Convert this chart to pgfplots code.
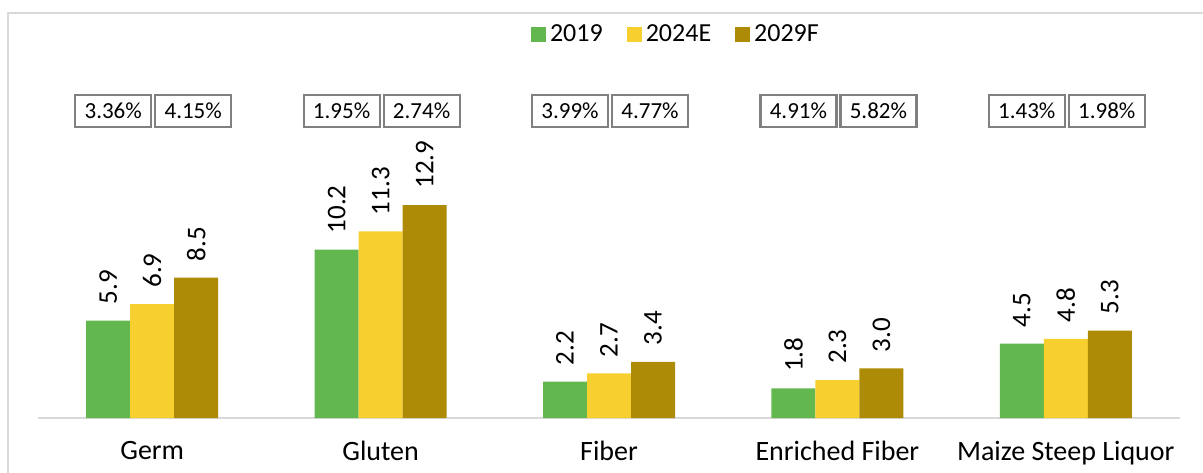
\documentclass[border=0pt]{standalone}
\usepackage{pgfplots}
\pgfplotsset{compat=1.18}
\usepackage{fontspec}
\setmainfont{Carlito}
\definecolor{cgreen}{RGB}{98,183,78}
\definecolor{cyellow}{RGB}{247,208,48}
\definecolor{cgold}{RGB}{174,139,6}
\definecolor{frame}{RGB}{217,217,217}
\definecolor{boxline}{RGB}{128,128,128}
\pgfplotsset{
  sqlegend/.style={legend image code/.code={\fill[##1] (0pt,-3.75pt) rectangle (7.5pt,3.75pt);}},
}
\tikzset{
  pct/.style={draw=boxline, line width=1.1pt, minimum width=38pt, minimum height=16pt,
    inner sep=0pt, font=\fontsize{11.5pt}{13pt}\selectfont, fill=white},
}
\begin{document}
\begin{tikzpicture}
\path[use as bounding box] (0,0) rectangle (601.5pt,236pt);
\clip (0,0) rectangle (601.5pt,236pt);
\draw[frame, line width=1pt] (4pt,-10pt) |- (620pt,229.5pt);
\begin{axis}[
  at={(19pt,27pt)}, anchor=south west,
  scale only axis, width=571pt, height=202.5pt,
  ybar=0pt, bar width=22pt,
  xmin=-0.5, xmax=4.5, ymin=0, ymax=24.53,
  enlarge x limits=false,
  axis x line*=bottom, axis y line=none,
  x axis line style={frame, line width=0.8pt, -},
  xtick={0,1,2,3,4},
  xticklabels={Germ,Gluten,Fiber,Enriched Fiber,Maize Steep Liquor},
  major tick length=0pt,
  xticklabel style={font=\fontsize{14pt}{16pt}\selectfont, yshift=-8pt},
  nodes near coords,
  every node near coord/.append style={rotate=90, anchor=west, inner xsep=8pt,
    font=\fontsize{13.5pt}{15pt}\selectfont,
    /pgf/number format/.cd, fixed, fixed zerofill, precision=1, assume math mode=true},
  legend columns=3,
  legend style={at={(0.5595,0.9457)}, anchor=center, draw=none, fill=none,
    font=\fontsize{13pt}{15pt}\selectfont,
    /tikz/every even column/.append style={column sep=10pt}},
]
\addplot[fill=cgreen, draw=none, sqlegend] coordinates {(0,5.9) (1,10.2) (2,2.2) (3,1.8) (4,4.5)};
\addlegendentry{2019}
\addplot[fill=cyellow, draw=none, sqlegend] coordinates {(0,6.9) (1,11.3) (2,2.7) (3,2.3) (4,4.8)};
\addlegendentry{2024E}
\addplot[fill=cgold, draw=none, sqlegend] coordinates {(0,8.5) (1,12.9) (2,3.4) (3,3.0) (4,5.3)};
\addlegendentry{2029F}
\node[pct, xshift=-19.5pt] at (axis cs:0,18.6) {3.36\%};
\node[pct, xshift=20.5pt] at (axis cs:0,18.6) {4.15\%};
\node[pct, xshift=-19.5pt] at (axis cs:1,18.6) {1.95\%};
\node[pct, xshift=20.5pt] at (axis cs:1,18.6) {2.74\%};
\node[pct, xshift=-19.5pt] at (axis cs:2,18.6) {3.99\%};
\node[pct, xshift=20.5pt] at (axis cs:2,18.6) {4.77\%};
\node[pct, xshift=-19.5pt] at (axis cs:3,18.6) {4.91\%};
\node[pct, xshift=20.5pt] at (axis cs:3,18.6) {5.82\%};
\node[pct, xshift=-19.5pt] at (axis cs:4,18.6) {1.43\%};
\node[pct, xshift=20.5pt] at (axis cs:4,18.6) {1.98\%};
\end{axis}
\end{tikzpicture}
\end{document}
